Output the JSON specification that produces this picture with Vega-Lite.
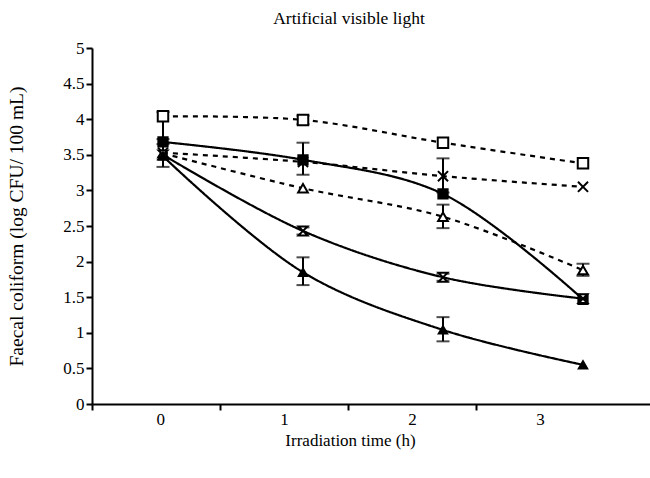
{
  "$schema": "https://vega.github.io/schema/vega-lite/v6.json",
  "width": 558,
  "height": 356,
  "autosize": {"type": "none"},
  "padding": {"left": 92, "top": 48, "right": 0, "bottom": 74},
  "background": "white",
  "config": {
    "view": {"stroke": null},
    "font": "Liberation Serif",
    "axis": {
      "grid": false,
      "domainColor": "black",
      "domainWidth": 2,
      "tickColor": "black",
      "tickWidth": 2,
      "tickSize": 6,
      "labelFont": "Liberation Serif",
      "labelFontSize": 17,
      "labelColor": "black",
      "labelOverlap": false,
      "titleFont": "Liberation Serif",
      "titleFontSize": 17,
      "titleFontWeight": "normal",
      "titleColor": "black"
    }
  },
  "title": {
    "text": "Artificial visible light",
    "font": "Liberation Serif",
    "fontSize": 17.5,
    "fontWeight": "normal",
    "color": "black",
    "offset": 12,
    "dx": -22
  },
  "datasets": {
    "pts": [
      {"series": "open square", "t": 0, "v": 4.04},
      {"series": "open square", "t": 1, "v": 3.99},
      {"series": "open square", "t": 2, "v": 3.67},
      {"series": "open square", "t": 3, "v": 3.38},
      {"series": "cross", "t": 0, "v": 3.53},
      {"series": "cross", "t": 1, "v": 3.4},
      {"series": "cross", "t": 2, "v": 3.2},
      {"series": "cross", "t": 3, "v": 3.05},
      {"series": "open triangle", "t": 0, "v": 3.52},
      {"series": "open triangle", "t": 1, "v": 3.03},
      {"series": "open triangle", "t": 2, "v": 2.63},
      {"series": "open triangle", "t": 3, "v": 1.88},
      {"series": "filled square", "t": 0, "v": 3.68},
      {"series": "filled square", "t": 1, "v": 3.43},
      {"series": "filled square", "t": 2, "v": 2.95},
      {"series": "filled square", "t": 3, "v": 1.47},
      {"series": "hourglass", "t": 0, "v": 3.5},
      {"series": "hourglass", "t": 1, "v": 2.43},
      {"series": "hourglass", "t": 2, "v": 1.78},
      {"series": "hourglass", "t": 3, "v": 1.48},
      {"series": "filled triangle", "t": 0, "v": 3.48},
      {"series": "filled triangle", "t": 1, "v": 1.85},
      {"series": "filled triangle", "t": 2, "v": 1.04},
      {"series": "filled triangle", "t": 3, "v": 0.55}
    ],
    "err": [
      {"series": "open square", "t": 0, "lo": 3.72, "hi": 4.1},
      {"series": "open square", "t": 1, "lo": 3.93, "hi": 4.05},
      {"series": "hourglass", "t": 0, "lo": 3.33, "hi": 3.65},
      {"series": "filled square", "t": 1, "lo": 3.22, "hi": 3.67},
      {"series": "filled triangle", "t": 1, "lo": 1.67, "hi": 2.06},
      {"series": "filled triangle", "t": 2, "lo": 0.88, "hi": 1.22},
      {"series": "cross", "t": 2, "lo": 2.97, "hi": 3.45},
      {"series": "open triangle", "t": 2, "lo": 2.47, "hi": 2.8},
      {"series": "open triangle", "t": 3, "lo": 1.8, "hi": 1.97},
      {"series": "hourglass", "t": 1, "lo": 2.38, "hi": 2.48},
      {"series": "hourglass", "t": 2, "lo": 1.73, "hi": 1.83}
    ]
  },
  "encoding": {
    "x": {
      "field": "t",
      "type": "quantitative",
      "scale": {"domain": [-0.5071, 3.4786], "nice": false, "zero": false},
      "axis": {
        "title": "Irradiation time (h)",
        "values": [-0.5071, 0.4071, 1.3214, 2.2357],
        "labelExpr": "'' + round((datum.value + 0.5071) / 0.9143)",
        "labelOffset": 64,
        "labelPadding": 1,
        "titleX": 258,
        "titleY": 28,
        "titleBaseline": "top"
      }
    }
  },
  "layer": [
    {
      "data": {"name": "pts"},
      "mark": {"type": "line", "interpolate": "catmull-rom", "strokeWidth": 2.2, "color": "black"},
      "encoding": {
        "y": {
          "field": "v",
          "type": "quantitative",
          "scale": {"domain": [0, 5], "nice": false},
          "axis": {
            "title": "Faecal coliform (log CFU/ 100 mL)",
            "titleFontSize": 19.5,
            "values": [0, 0.5, 1, 1.5, 2, 2.5, 3, 3.5, 4, 4.5, 5],
            "labelExpr": "'' + datum.value",
            "labelOverlap": false,
            "labelFontSize": 17,
            "labelPadding": 2,
            "titlePadding": 36
          }
        },
        "detail": {"field": "series"},
        "strokeDash": {
          "field": "series",
          "type": "nominal",
          "scale": {
            "domain": ["open square", "cross", "open triangle", "filled square", "hourglass", "filled triangle"],
            "range": [[5, 5], [5, 5], [5, 5], [1, 0], [1, 0], [1, 0]]
          },
          "legend": null
        }
      }
    },
    {
      "data": {"name": "err"},
      "mark": {"type": "rule", "color": "black", "strokeWidth": 2},
      "encoding": {
        "y": {
          "field": "lo",
          "type": "quantitative",
          "scale": {"domain": [0, 5], "nice": false},
          "axis": {
            "title": "Faecal coliform (log CFU/ 100 mL)",
            "titleFontSize": 19.5,
            "values": [0, 0.5, 1, 1.5, 2, 2.5, 3, 3.5, 4, 4.5, 5],
            "labelExpr": "'' + datum.value",
            "labelOverlap": false,
            "labelFontSize": 17,
            "labelPadding": 2,
            "titlePadding": 36
          }
        },
        "y2": {"field": "hi"}
      }
    },
    {
      "data": {"name": "err"},
      "mark": {"type": "tick", "orient": "horizontal", "color": "black", "size": 13, "thickness": 2},
      "encoding": {
        "y": {
          "field": "lo",
          "type": "quantitative",
          "scale": {"domain": [0, 5], "nice": false},
          "axis": {
            "title": "Faecal coliform (log CFU/ 100 mL)",
            "titleFontSize": 19.5,
            "values": [0, 0.5, 1, 1.5, 2, 2.5, 3, 3.5, 4, 4.5, 5],
            "labelExpr": "'' + datum.value",
            "labelOverlap": false,
            "labelFontSize": 17,
            "labelPadding": 2,
            "titlePadding": 36
          }
        }
      }
    },
    {
      "data": {"name": "err"},
      "mark": {"type": "tick", "orient": "horizontal", "color": "black", "size": 13, "thickness": 2},
      "encoding": {
        "y": {
          "field": "hi",
          "type": "quantitative",
          "scale": {"domain": [0, 5], "nice": false},
          "axis": {
            "title": "Faecal coliform (log CFU/ 100 mL)",
            "titleFontSize": 19.5,
            "values": [0, 0.5, 1, 1.5, 2, 2.5, 3, 3.5, 4, 4.5, 5],
            "labelExpr": "'' + datum.value",
            "labelOverlap": false,
            "labelFontSize": 17,
            "labelPadding": 2,
            "titlePadding": 36
          }
        }
      }
    },
    {
      "data": {"name": "pts"},
      "mark": {"type": "point", "filled": false, "stroke": "black", "strokeWidth": 2, "opacity": 1},
      "encoding": {
        "y": {
          "field": "v",
          "type": "quantitative",
          "scale": {"domain": [0, 5], "nice": false},
          "axis": {
            "title": "Faecal coliform (log CFU/ 100 mL)",
            "titleFontSize": 19.5,
            "values": [0, 0.5, 1, 1.5, 2, 2.5, 3, 3.5, 4, 4.5, 5],
            "labelExpr": "'' + datum.value",
            "labelOverlap": false,
            "labelFontSize": 17,
            "labelPadding": 2,
            "titlePadding": 36
          }
        },
        "shape": {
          "field": "series",
          "type": "nominal",
          "scale": {
            "domain": ["open square", "cross", "open triangle", "filled square", "hourglass", "filled triangle"],
            "range": ["square", "M-1,-1L1,1M-1,1L1,-1", "triangle-up", "square", "M-1,-1L1,-1L-1,1L1,1Z", "triangle-up"]
          },
          "legend": null
        },
        "fill": {
          "field": "series",
          "type": "nominal",
          "scale": {
            "domain": ["open square", "cross", "open triangle", "filled square", "hourglass", "filled triangle"],
            "range": ["white", "transparent", "white", "black", "white", "black"]
          },
          "legend": null
        },
        "size": {
          "field": "series",
          "type": "nominal",
          "scale": {
            "domain": ["open square", "cross", "open triangle", "filled square", "hourglass", "filled triangle"],
            "range": [110, 70, 110, 150, 70, 150]
          },
          "legend": null
        }
      }
    }
  ]
}
